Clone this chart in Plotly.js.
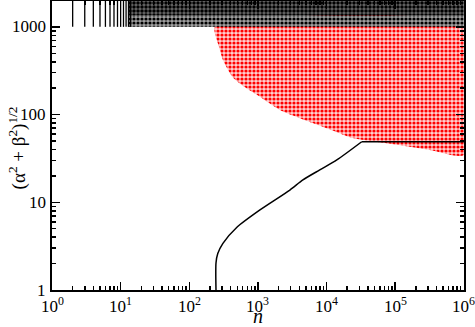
<!DOCTYPE html>
<html>
<head>
<meta charset="utf-8">
<script src="https://cdn.plot.ly/plotly-3.0.1.min.js"></script>
<style>
  html, body { margin: 0; padding: 0; background: #fff; }
  #plot { width: 475px; height: 327px; }
</style>
</head>
<body>
<div id="plot"></div>
<script>
// integer n columns at small n (black points between 1000 and 2000)
var colN = [2, 3, 4, 5, 6, 7, 8, 9, 10, 11, 12, 13, 14];
var blackLow = 1000, blackMid = 1350, blackHigh = 2000;
var blackStartN = 13, blackEndN = 1e6;

// lower edge of the red cloud, its top is at 1000
var redEdgeN = [237, 270, 309, 432, 650, 967, 2090, 6300, 14100, 24000, 75000, 318000, 1e6];
var redEdgeY = [1000, 600, 420, 265, 205, 168, 113, 80, 63, 54, 47, 39.5, 34.7];
var redTop = 1000;

// black curve
var lineN = [245, 245, 260, 309, 494, 1070, 2920, 4520, 7960, 14100, 32500, 1e6];
var lineY = [1, 2.03, 2.6, 3.4, 5.2, 8.2, 13.8, 18, 23.4, 30.4, 49, 49];

var xTickVals = [1, 10, 100, 1e3, 1e4, 1e5, 1e6];
var xTickText = ['10<sup>0</sup>', '10<sup>1</sup>', '10<sup>2</sup>', '10<sup>3</sup>',
                 '10<sup>4</sup>', '10<sup>5</sup>', '10<sup>6</sup>'];
var yTickVals = [1, 10, 100, 1000];
var yTickText = ['1', '10', '100', '1000'];

function minorVals(lo, hi) {
    var out = [];
    for (var d = lo; d < hi; d++) {
        for (var k = 2; k <= 9; k++) out.push(k * Math.pow(10, d));
    }
    return out;
}

var SERIF = 'Liberation Serif';
var xRange = [0, 6.002];
var yRange = [0, 3.295];

// red region polygon
var redX = redEdgeN.concat([redEdgeN[redEdgeN.length - 1], redEdgeN[0]]);
var redY = redEdgeY.concat([redTop, redTop]);

var redTrace = {
    x: redX, y: redY,
    type: 'scatter', mode: 'lines',
    fill: 'toself',
    line: { width: 0, shape: 'spline', smoothing: 0.6 },
    fillpattern: { shape: '.', size: 4, solidity: 0.5, fgcolor: '#ff0000', bgcolor: '#ffd0d0' },
    hoverinfo: 'skip', showlegend: false
};

function band(y0, y1, fg, bg, sol) {
    return {
        x: [blackStartN, blackEndN, blackEndN, blackStartN],
        y: [y0, y0, y1, y1],
        type: 'scatter', mode: 'lines',
        fill: 'toself',
        line: { width: 0 },
        fillpattern: { shape: '.', size: 4, solidity: sol, fgcolor: fg, bgcolor: bg },
        hoverinfo: 'skip', showlegend: false
    };
}
var blackLowBand = band(blackLow, blackMid, '#000', '#a0a0a0', 0.5);
var blackHighBand = band(blackMid, blackHigh, '#000', '#6a6a6a', 0.6);

var colX = [], colY = [];
for (var i = 0; i < colN.length; i++) {
    colX.push(colN[i], colN[i], null);
    colY.push(blackLow, blackHigh, null);
}
var colTrace = {
    x: colX, y: colY,
    type: 'scatter', mode: 'lines',
    line: { color: '#000', width: 1.3 },
    hoverinfo: 'skip', showlegend: false
};

// rising part smooth, then the flat part
var knee = lineN.length - 2;
var curveTrace = {
    x: lineN.slice(0, knee + 1), y: lineY.slice(0, knee + 1),
    type: 'scatter', mode: 'lines',
    line: { color: '#000', width: 1.5, shape: 'spline', smoothing: 0.7 },
    hoverinfo: 'skip', showlegend: false
};
var flatTrace = {
    x: lineN.slice(knee), y: lineY.slice(knee),
    type: 'scatter', mode: 'lines',
    line: { color: '#000', width: 1.5 },
    hoverinfo: 'skip', showlegend: false
};

// empty trace so the overlay axes (minor ticks) get drawn
var minorHolder = { x: [], y: [], xaxis: 'x2', yaxis: 'y2', type: 'scatter', mode: 'lines', showlegend: false, hoverinfo: 'skip' };

var labelFont = { family: SERIF, size: 17, color: '#000' };

// tick labels as annotations, so they get the serif font
var annotations = [];
for (var i = 0; i < xTickVals.length; i++) {
    annotations.push({
        xref: 'x', yref: 'paper', x: Math.log10(xTickVals[i]), y: 0,
        xanchor: 'center', yanchor: 'top', yshift: -2,
        showarrow: false, text: xTickText[i], font: labelFont
    });
}
for (var i = 0; i < yTickVals.length; i++) {
    annotations.push({
        xref: 'paper', yref: 'y', x: 0, y: Math.log10(yTickVals[i]),
        xanchor: 'right', yanchor: 'middle', xshift: -4,
        showarrow: false, text: yTickText[i], font: labelFont
    });
}
annotations.push({
    xref: 'paper', yref: 'paper', x: 0, y: 0.49,
    xanchor: 'center', yanchor: 'middle', xshift: -35,
    textangle: -90, showarrow: false,
    text: '(α<sup>2</sup> + β<sup>2</sup>)<sup>1/2</sup>',
    font: { family: SERIF, size: 19, color: '#000' }
});
annotations.push({
    xref: 'paper', yref: 'paper', x: 0.5, y: 0,
    xanchor: 'center', yanchor: 'middle', yshift: -26, height: 20,
    showarrow: false,
    text: '<i>n</i>',
    font: { family: SERIF, size: 20, color: '#000' }
});

var layout = {
    width: 475, height: 327,
    margin: { l: 52, r: 11, t: 1, b: 37 },
    paper_bgcolor: '#fff', plot_bgcolor: '#fff',
    font: { family: SERIF, size: 16, color: '#000' },
    xaxis: {
        type: 'log', range: xRange,
        tickmode: 'array', tickvals: xTickVals, showticklabels: false,
        ticks: 'inside', ticklen: 8, tickwidth: 1.5, tickcolor: '#000',
        showline: true, linewidth: 2, linecolor: '#000', mirror: 'ticks',
        showgrid: false, zeroline: false
    },
    yaxis: {
        type: 'log', range: yRange,
        tickmode: 'array', tickvals: yTickVals, showticklabels: false,
        ticks: 'inside', ticklen: 8, tickwidth: 1.5, tickcolor: '#000',
        showline: true, linewidth: 2, linecolor: '#000', mirror: 'ticks',
        showgrid: false, zeroline: false
    },
    xaxis2: {
        type: 'log', range: xRange, overlaying: 'x', anchor: 'y2',
        tickmode: 'array', tickvals: minorVals(0, 6), showticklabels: false,
        ticks: 'inside', ticklen: 4, tickwidth: 1.5, tickcolor: '#000',
        showline: false, mirror: 'ticks', showgrid: false, zeroline: false
    },
    yaxis2: {
        type: 'log', range: yRange, overlaying: 'y', anchor: 'x2',
        tickmode: 'array', tickvals: minorVals(0, 4), showticklabels: false,
        ticks: 'inside', ticklen: 4, tickwidth: 1.5, tickcolor: '#000',
        showline: false, mirror: 'ticks', showgrid: false, zeroline: false
    },
    annotations: annotations
};

Plotly.newPlot('plot', [redTrace, blackLowBand, blackHighBand, colTrace, curveTrace, flatTrace, minorHolder], layout, { staticPlot: true });
</script>
</body>
</html>
